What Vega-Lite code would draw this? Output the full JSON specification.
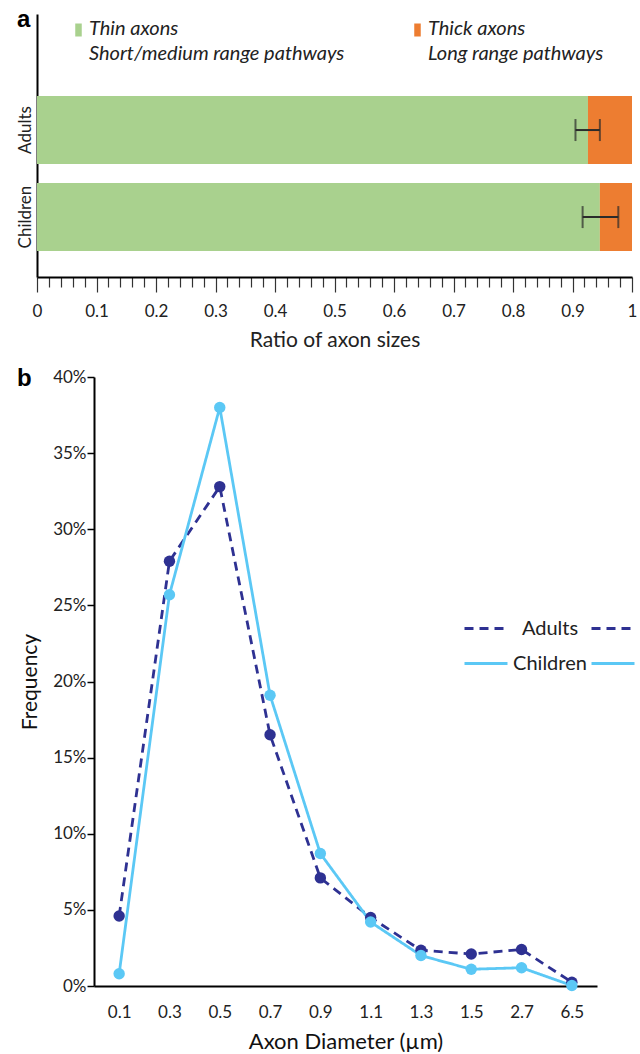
{
  "$schema": "https://vega.github.io/schema/vega-lite/v6.json",
  "background": "white",
  "padding": {"left": 16, "top": 8, "right": 0, "bottom": 0},
  "config": {"view": {"stroke": null}, "font": "Lato"},
  "datasets": {
    "bars": [
      {"group": "Adults", "type": "Thin axons", "start": 0, "end": 0.926},
      {"group": "Adults", "type": "Thick axons", "start": 0.926, "end": 1},
      {"group": "Children", "type": "Thin axons", "start": 0, "end": 0.946},
      {"group": "Children", "type": "Thick axons", "start": 0.946, "end": 1}
    ],
    "errors": [
      {"group": "Adults", "low": 0.905, "high": 0.946},
      {"group": "Children", "low": 0.917, "high": 0.977}
    ],
    "freq": [
      {"series": "Adults", "diameter": "0.1", "frequency": 0.046},
      {"series": "Adults", "diameter": "0.3", "frequency": 0.279},
      {"series": "Adults", "diameter": "0.5", "frequency": 0.328},
      {"series": "Adults", "diameter": "0.7", "frequency": 0.165},
      {"series": "Adults", "diameter": "0.9", "frequency": 0.071},
      {"series": "Adults", "diameter": "1.1", "frequency": 0.045},
      {"series": "Adults", "diameter": "1.3", "frequency": 0.0235},
      {"series": "Adults", "diameter": "1.5", "frequency": 0.021},
      {"series": "Adults", "diameter": "2.7", "frequency": 0.024},
      {"series": "Adults", "diameter": "6.5", "frequency": 0.0025},
      {"series": "Children", "diameter": "0.1", "frequency": 0.008},
      {"series": "Children", "diameter": "0.3", "frequency": 0.257},
      {"series": "Children", "diameter": "0.5", "frequency": 0.38},
      {"series": "Children", "diameter": "0.7", "frequency": 0.191},
      {"series": "Children", "diameter": "0.9", "frequency": 0.087},
      {"series": "Children", "diameter": "1.1", "frequency": 0.042},
      {"series": "Children", "diameter": "1.3", "frequency": 0.02},
      {"series": "Children", "diameter": "1.5", "frequency": 0.011},
      {"series": "Children", "diameter": "2.7", "frequency": 0.012},
      {"series": "Children", "diameter": "6.5", "frequency": 0.0003}
    ]
  },
  "concat": [
    {
      "width": 595,
      "height": 263,
      "title": {"text": "a", "anchor": "start", "frame": "group", "orient": "top", "baseline": "top", "offset": -18, "dx": -20, "font": "Liberation Sans", "fontSize": 24, "fontWeight": "bold", "color": "#000"},
      "layer": [
        {
          "data": {"name": "bars"},
          "mark": {"type": "bar"},
          "encoding": {
            "x": {
              "field": "start", "type": "quantitative",
              "scale": {"domain": [0, 1], "nice": false, "zero": false},
              "title": "Ratio of axon sizes",
              "axis": {
                "values": [0,0.02,0.04,0.06,0.08,0.1,0.12,0.14,0.16,0.18,0.2,0.22,0.24,0.26,0.28,0.3,0.32,0.34,0.36,0.38,0.4,0.42,0.44,0.46,0.48,0.5,0.52,0.54,0.56,0.58,0.6,0.62,0.64,0.66,0.68,0.7,0.72,0.74,0.76,0.78,0.8,0.82,0.84,0.86,0.88,0.9,0.92,0.94,0.96,0.98,1],
                "tickCount": 200,
                "grid": false,
                "domainColor": "#000", "domainWidth": 2,
                "tickColor": "#333", "tickWidth": 1.2,
                "tickSize": {"condition": {"test": "abs(datum.value*10-round(datum.value*10))<0.001", "value": 15}, "value": 10},
                "labelExpr": "abs(datum.value*10-round(datum.value*10))<0.001 ? format(datum.value,'.1~f') : ''",
                "labelFontSize": 17, "labelColor": "#222", "labelPadding": 11,
                "labelOverlap": false, "labelFlush": false, "labelBound": false,
                "titleFontSize": 21, "titleFontWeight": "normal", "titleColor": "#222", "titlePadding": 10
              }
            },
            "x2": {"field": "end"},
            "y": {
              "field": "group", "type": "nominal", "sort": ["Adults", "Children"],
              "scale": {"paddingInner": 0.218, "paddingOuter": 0.62, "align": 0.76},
              "title": null,
              "axis": {
                "domainColor": "#000", "domainWidth": 2, "ticks": false,
                "labelAngle": -90, "labelAlign": "center", "labelBaseline": "bottom",
                "labelFontSize": 17, "labelColor": "#222", "labelPadding": 3
              }
            },
            "color": {
              "field": "type", "type": "nominal",
              "scale": {"domain": ["Thin axons", "Thick axons"], "range": ["#A9D18E", "#ED7D31"]},
              "legend": {
                "orient": "none", "legendX": 31.5, "legendY": 6, "direction": "horizontal",
                "title": null, "padding": 0,
                "symbolType": "M-0.5,-1H0.5V1H-0.5Z", "symbolSize": 169, "symbolStrokeWidth": 0,
                "labelFontSize": 20, "labelFontStyle": "italic", "labelColor": "#222",
                "labelAlign": "left", "labelBaseline": "top",
                "labelLimit": 400, "labelOffset": 0.5, "columnPadding": 63,
                "labelExpr": "datum.label == 'Thin axons' ? ['Thin axons', 'Short/medium range pathways'] : ['Thick axons', 'Long range pathways']",
                "encode": {"labels": {"update": {"lineHeight": {"value": 25}, "dy": {"value": -11}}}}
              }
            }
          }
        },
        {
          "data": {"name": "errors"},
          "mark": {"type": "rule", "color": "#2b2b2b", "strokeWidth": 2},
          "encoding": {
            "x": {"field": "low", "type": "quantitative", "scale": {"domain": [0, 1], "nice": false, "zero": false}, "title": "Ratio of axon sizes"},
            "x2": {"field": "high"},
            "y": {"field": "group", "type": "nominal", "sort": ["Adults", "Children"], "title": null}
          }
        },
        {
          "data": {"name": "errors"},
          "mark": {"type": "tick", "color": "#2b2b2b", "thickness": 2, "size": 22},
          "encoding": {
            "x": {"field": "low", "type": "quantitative", "scale": {"domain": [0, 1], "nice": false, "zero": false}, "title": "Ratio of axon sizes"},
            "y": {"field": "group", "type": "nominal", "sort": ["Adults", "Children"], "title": null}
          }
        },
        {
          "data": {"name": "errors"},
          "mark": {"type": "tick", "color": "#2b2b2b", "thickness": 2, "size": 22},
          "encoding": {
            "x": {"field": "high", "type": "quantitative", "scale": {"domain": [0, 1], "nice": false, "zero": false}, "title": "Ratio of axon sizes"},
            "y": {"field": "group", "type": "nominal", "sort": ["Adults", "Children"], "title": null}
          }
        }
      ]
    },
    {
      "width": 560,
      "height": 609,
      "title": {"text": "b", "anchor": "start", "frame": "group", "orient": "top", "baseline": "top", "offset": -23, "dx": -20, "font": "Liberation Sans", "fontSize": 24, "fontWeight": "bold", "color": "#000"},
      "data": {"name": "freq"},
      "encoding": {
        "x": {
          "field": "diameter", "type": "ordinal", "sort": null,
          "scale": {"type": "point", "padding": 0.5, "range": [57, 560]},
          "title": "Axon Diameter (µm)",
          "axis": {
            "domainColor": "#000", "domainWidth": 2, "ticks": false, "grid": false,
            "labelAngle": 0, "labelPadding": 18, "labelFontSize": 17, "labelColor": "#222",
            "titleFontSize": 22, "titleFontWeight": "normal", "titleColor": "#111", "titlePadding": 11
          }
        },
        "y": {
          "field": "frequency", "type": "quantitative",
          "scale": {"domain": [0, 0.4], "nice": false},
          "title": "Frequency",
          "axis": {
            "offset": -57,
            "values": [0, 0.05, 0.1, 0.15, 0.2, 0.25, 0.3, 0.35, 0.4],
            "format": ".0%", "grid": false,
            "domainColor": "#000", "domainWidth": 2,
            "tickColor": "#000", "tickWidth": 1.5, "tickSize": 7,
            "labelPadding": 1, "labelFontSize": 17, "labelColor": "#222",
            "titleFontSize": 21, "titleFontWeight": "normal", "titleColor": "#111", "titlePadding": 12
          }
        }
      },
      "layer": [
        {
          "mark": {"type": "line", "strokeWidth": 2.8},
          "encoding": {
            "color": {
              "field": "series", "type": "nominal",
              "scale": {"range": ["#2E3192", "#5BC8F5"]},
              "legend": {
                "orient": "none", "legendX": 426, "legendY": 228.5, "title": null, "padding": 0,
                "symbolType": "stroke", "symbolSize": 1849, "symbolStrokeWidth": 3,
                "labelFontSize": 20, "labelColor": "#222", "labelAlign": "center", "labelOffset": 41,
                "rowPadding": 2,
                "encode": {"symbols": {"update": {"strokeDash": {"signal": "datum.value === 'Adults' ? [9,6] : [1,0]"}}}}
              }
            },
            "strokeDash": {
              "field": "series", "type": "nominal",
              "scale": {"domain": ["Adults", "Children"], "range": [[9, 6], [1, 0]]},
              "legend": {
                "orient": "none", "legendX": 553, "legendY": 228.5, "title": null, "padding": 0,
                "symbolType": "stroke", "symbolSize": 1849, "symbolStrokeWidth": 3,
                "labelFontSize": 20, "labelOpacity": 0, "labelExpr": "''", "rowPadding": 2,
                "encode": {"symbols": {"update": {
                  "stroke": {"signal": "datum.value === 'Adults' ? '#2E3192' : '#5BC8F5'"},
                  "strokeWidth": {"value": 3},
                  "opacity": {"value": 1}
                }}}
              }
            }
          }
        },
        {
          "mark": {"type": "point", "filled": true, "size": 130, "opacity": 1},
          "encoding": {
            "color": {"field": "series", "type": "nominal", "legend": null}
          }
        }
      ]
    }
  ],
  "columns": 1,
  "spacing": 17,
  "resolve": {
    "scale": {"color": "independent", "strokeDash": "independent"},
    "legend": {"color": "independent", "strokeDash": "independent"}
  }
}
